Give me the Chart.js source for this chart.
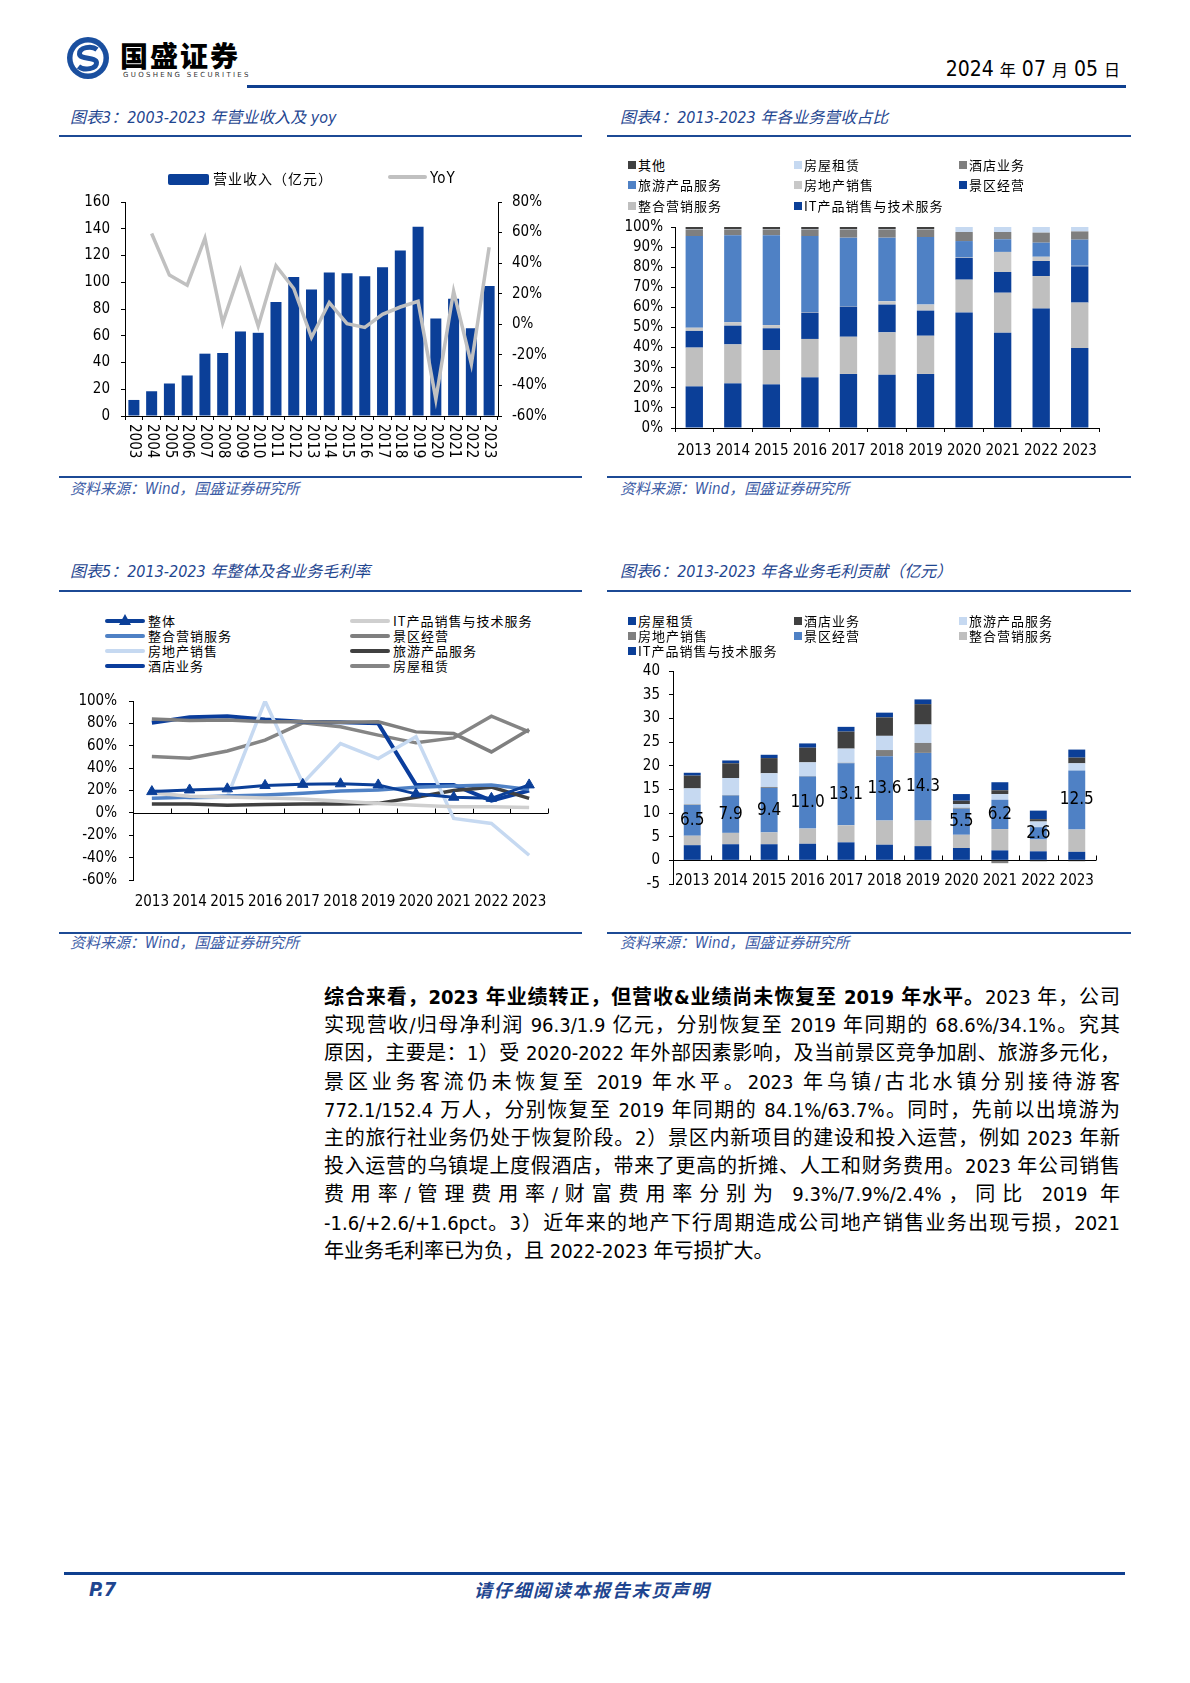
<!DOCTYPE html>
<html lang="zh-CN">
<head>
<meta charset="utf-8">
<script src="https://cdn.jsdelivr.net/npm/chart.js@4.4.1/dist/chart.umd.min.js"></script>
<style>
  html, body { margin: 0; padding: 0; background: #fff; }
  body {
    width: 1190px; height: 1683px; position: relative; overflow: hidden;
    font-family: "DejaVu Sans Condensed", "Liberation Sans", "Noto Sans CJK SC", sans-serif;
    color: #000;
  }
  .abs { position: absolute; white-space: nowrap; }
  canvas { position: absolute; }
  .bar { position: absolute; background: #0f3f8f; }
  .rule { position: absolute; height: 2px; background: #1c4a95; }
  .title { position: absolute; font-size: 16px; line-height: 20px; font-style: italic; color: #1f4690; white-space: nowrap; }
  .src { position: absolute; font-size: 15px; line-height: 18px; font-style: italic; color: #3b5ba5; white-space: nowrap; }
  .leg { position: absolute; font-family: "Noto Sans CJK SC", sans-serif; font-size: 13px; line-height: 16px; letter-spacing: 1px; white-space: nowrap; }
  .leg i { display: inline-block; width: 8px; height: 8px; margin-right: 2px; vertical-align: 1px; }
  .text { position: absolute; left: 324px; width: 796px; top: 983px; font-size: 20px; line-height: 28.2px; }
  .text div { text-align: justify; text-align-last: justify; white-space: nowrap; }
  .text div.last { text-align-last: left; }
</style>
</head>
<body>

<!-- header -->
<svg class="abs" style="left:66px;top:36px" width="44" height="44" viewBox="0 0 44 44">
  <circle cx="22" cy="22" r="21" fill="#1a4f9f"/>
  <circle cx="22" cy="22" r="15.5" fill="#fff"/>
  <path d="M31 13.5 C 26 9.5, 13 11, 13.5 18 C 14 24, 30 20.5, 30.5 26.5 C 31 33, 18 35, 12.5 30.5" stroke="#1a4f9f" stroke-width="5" fill="none"/>
</svg>
<div class="abs" style="left:120px;top:38px;font-family:'Noto Sans CJK SC';font-weight:900;font-size:28px;line-height:34px;letter-spacing:2px;">国盛证券</div>
<div class="abs" style="left:123px;top:71px;font-family:'DejaVu Sans';font-size:7px;line-height:9px;letter-spacing:2.3px;color:#333;">GUOSHENG SECURITIES</div>
<div class="abs" style="right:70px;top:56px;font-size:21px;line-height:26px;">2024 <span style="font-family:'Noto Sans CJK SC';font-size:16px">年</span> 07 <span style="font-family:'Noto Sans CJK SC';font-size:16px">月</span> 05 <span style="font-family:'Noto Sans CJK SC';font-size:16px">日</span></div>
<div class="bar" style="left:247px;top:85px;width:879px;height:3px;"></div>

<!-- titles and rules -->
<div class="title" style="left:70px;top:108px;">图表3：2003-2023 年营业收入及 yoy</div>
<div class="rule" style="left:59px;top:135px;width:523px;"></div>
<div class="title" style="left:620px;top:108px;">图表4：2013-2023 年各业务营收占比</div>
<div class="rule" style="left:607px;top:135px;width:524px;"></div>
<div class="rule" style="left:59px;top:476px;width:523px;"></div>
<div class="src" style="left:70px;top:480px;">资料来源：Wind，国盛证券研究所</div>
<div class="rule" style="left:607px;top:476px;width:524px;"></div>
<div class="src" style="left:620px;top:480px;">资料来源：Wind，国盛证券研究所</div>

<div class="title" style="left:70px;top:562px;">图表5：2013-2023 年整体及各业务毛利率</div>
<div class="rule" style="left:59px;top:590px;width:523px;"></div>
<div class="title" style="left:620px;top:562px;">图表6：2013-2023 年各业务毛利贡献（亿元）</div>
<div class="rule" style="left:607px;top:590px;width:524px;"></div>
<div class="rule" style="left:59px;top:932px;width:523px;"></div>
<div class="src" style="left:70px;top:934px;">资料来源：Wind，国盛证券研究所</div>
<div class="rule" style="left:607px;top:932px;width:524px;"></div>
<div class="src" style="left:620px;top:934px;">资料来源：Wind，国盛证券研究所</div>

<canvas id="c3" width="510" height="284" style="left:55px;top:182px;"></canvas>
<canvas id="c4" width="514" height="265" style="left:605px;top:210px;"></canvas>
<canvas id="c5" width="500" height="241" style="left:60px;top:680px;"></canvas>
<canvas id="c6" width="514" height="249" style="left:605px;top:653px;"></canvas>

<div class="text">
  <div><b>综合来看，2023 年业绩转正，但营收&amp;业绩尚未恢复至 2019 年水平。</b>2023 年，公司</div>
  <div>实现营收/归母净利润 96.3/1.9 亿元，分别恢复至 2019 年同期的 68.6%/34.1%。究其</div>
  <div>原因，主要是：1）受 2020-2022 年外部因素影响，及当前景区竞争加剧、旅游多元化，</div>
  <div>景区业务客流仍未恢复至 2019 年水平。2023 年乌镇/古北水镇分别接待游客</div>
  <div>772.1/152.4 万人，分别恢复至 2019 年同期的 84.1%/63.7%。同时，先前以出境游为</div>
  <div>主的旅行社业务仍处于恢复阶段。2）景区内新项目的建设和投入运营，例如 2023 年新</div>
  <div>投入运营的乌镇堤上度假酒店，带来了更高的折摊、人工和财务费用。2023 年公司销售</div>
  <div>费用率/管理费用率/财富费用率分别为 9.3%/7.9%/2.4%，同比 2019 年</div>
  <div>-1.6/+2.6/+1.6pct。3）近年来的地产下行周期造成公司地产销售业务出现亏损，2021</div>
  <div class="last">年业务毛利率已为负，且 2022-2023 年亏损扩大。</div>
</div>

<!-- footer -->
<div class="bar" style="left:64px;top:1572px;width:1061px;height:3px;"></div>
<div class="abs" style="left:89px;top:1578px;font-size:20px;line-height:22px;font-weight:bold;font-style:italic;color:#1f4690;">P.7</div>
<div class="abs" style="left:474px;top:1578px;font-family:'Noto Sans CJK SC';font-size:18px;line-height:22px;font-weight:bold;font-style:italic;color:#1f4690;letter-spacing:1.7px;">请仔细阅读本报告末页声明</div>

<script>
// ---- chart 3: revenue and yoy ----
const years3 = ['2003','2004','2005','2006','2007','2008','2009','2010','2011','2012','2013',
                '2014','2015','2016','2017','2018','2019','2020','2021','2022','2023'];
const revenue = [12, 18.5, 24.3, 30.3, 46.6, 47.1, 63.2, 62.2, 85.2, 104, 94.5,
                 107.3, 106.8, 104.5, 111.3, 123.8, 141.5, 72.9, 87.7, 65.7, 97.2];
const yoy = [null, 59.4, 32.2, 25.6, 56.3, 1, 35.3, -1.2, 38.3, 23.4, -8.6,
             14.2, 0.4, -2, 6.5, 11.3, 15, -49, 21.6, -26, 50.4];

// ---- chart 4: revenue share (%) ----
const years = ['2013','2014','2015','2016','2017','2018','2019','2020','2021','2022','2023'];
const shareIT     = [20.7, 22.2, 21.7, 25.2, 26.9, 26.5, 26.9, 57.5, 47.4, 59.4, 39.8];
const shareMkt    = [19.3, 19.4, 17.1, 19.1, 18.5, 21.1, 19.0, 16.3, 19.9, 16.2, 22.6];
const shareScenic = [8.3, 9.3, 10.8, 13.1, 15.0, 13.8, 12.5, 10.9, 10.3, 7.5, 18.0];
const shareRE     = [1.6, 1.7, 1.6, 0.3, 0.2, 1.6, 3.0, 0.3, 10.0, 2.1, 0.3];
const shareTravel = [45.6, 43.3, 44.7, 37.8, 34.1, 31.7, 33.6, 8.0, 6.3, 7.0, 13.0];
const shareHotel  = [3.3, 2.9, 2.9, 3.3, 4.1, 4.1, 3.8, 4.5, 3.6, 5.0, 4.1];
const shareRent   = [0.2, 0.2, 0.2, 0.2, 0.2, 0.2, 0.2, 2.5, 2.5, 2.8, 2.2];
const shareOther  = [1, 1, 1, 1, 1, 1, 1, 0, 0, 0, 0];

// ---- chart 5: gross margin (%) ----
const gmTotal  = [19, 20.5, 21.5, 24.5, 25.5, 26, 25, 17, 14, 13, 25];
const gmIT     = [17.8, 14.8, 14.2, 13.3, 12.4, 10.4, 8.3, 6.9, 5.4, 5.4, 4.8];
const gmMkt    = [13, 14, 15, 16, 17.5, 19.5, 20.5, 23, 24, 25, 21];
const gmScenic = [84, 82.5, 83, 81.5, 81.5, 81, 81.5, 72.4, 70.9, 54.5, 74.5];
const gmRE     = [20.7, 13, 14.2, 100, 26.6, 62, 48.6, 68, -5, -9.5, -37.9];
const gmTravel = [8, 8, 6.8, 7.4, 8, 8, 8.5, 14, 20, 23, 13];
const gmHotel  = [80.5, 85.5, 86.4, 83.4, 81.4, 81, 80, 25, 25, 11, 20];
const gmRent   = [50.3, 48.8, 55.3, 65, 80.5, 77, 69.5, 62.6, 67, 86.4, 72.4];

// ---- chart 6: gross profit contribution (亿元) ----
const gpIT     = [3.2, 3.4, 3.4, 3.5, 3.8, 3.3, 3.0, 2.6, 2.1, 1.9, 1.8];
const gpMkt    = [2.0, 2.4, 2.5, 3.2, 3.6, 5.1, 5.4, 2.8, 4.5, 2.5, 4.7];
const gpScenic = [6.5, 7.9, 9.4, 11.0, 13.1, 13.6, 14.3, 5.5, 6.2, 2.6, 12.5];
const gpRE     = [0.1, 0.1, 0.2, 0.1, 0.1, 1.3, 2.1, 0.2, -0.6, -0.2, -0.2];
const gpTravel = [3.4, 3.6, 2.9, 2.9, 3.0, 3.0, 3.9, 0.8, 1.2, 1.2, 1.5];
const gpHotel  = [2.7, 3.1, 3.2, 3.1, 3.6, 3.9, 4.3, 0.7, 0.8, 0.5, 1.2];
const gpRent   = [0.6, 0.6, 0.7, 0.9, 1.0, 1.0, 1.0, 1.4, 1.7, 1.8, 1.7];

const DARK = '#0b3f98', MID = '#4f81c5', PALE = '#c6d9f1';
const LGREY = '#bfbfbf', GREY = '#7f7f7f', DGREY = '#404040';

const NUMFONT = '"DejaVu Sans Condensed", "DejaVu Sans", "Noto Sans CJK SC", sans-serif';
Chart.defaults.font.family = NUMFONT;
Chart.defaults.font.size = 15;
Chart.defaults.color = '#000';
Chart.defaults.animation = false;
Chart.defaults.plugins.legend.display = false;
Chart.defaults.plugins.tooltip.enabled = false;

const axisGrid = { drawOnChartArea: false, tickLength: 4, color: '#000' };
const axisBorder = { color: '#000' };

// x labels turned 90deg clockwise (chart 3)
const verticalLabels = {
  id: 'verticalLabels',
  afterDraw(chart) {
    const { ctx, scales: { x } } = chart;
    ctx.save();
    ctx.font = '15px ' + NUMFONT;
    ctx.fillStyle = '#000';
    ctx.textAlign = 'left';
    ctx.textBaseline = 'middle';
    chart.data.labels.forEach((lab, i) => {
      ctx.save();
      ctx.translate(x.getPixelForValue(i), chart.chartArea.bottom + 8);
      ctx.rotate(Math.PI / 2);
      ctx.fillText(lab, 0, 0);
      ctx.restore();
    });
    ctx.restore();
  }
};

// category labels sitting on the bottom edge of the plot (chart 6)
const lowLabels = {
  id: 'lowLabels',
  afterDraw(chart) {
    const { ctx, scales: { x } } = chart;
    ctx.save();
    ctx.font = '15px ' + NUMFONT;
    ctx.fillStyle = '#000';
    ctx.textAlign = 'center';
    ctx.textBaseline = 'middle';
    chart.data.labels.forEach((lab, i) => {
      ctx.fillText(lab, x.getPixelForValue(i), chart.chartArea.bottom - 3);
    });
    ctx.restore();
  }
};

// category axis drawn at value 0, ticks between categories
const zeroAxis = {
  id: 'zeroAxis',
  beforeDatasetsDraw(chart) {
    const { ctx, chartArea: a, scales: { x, y } } = chart;
    const y0 = Math.round(y.getPixelForValue(0)) + 0.5;
    ctx.save();
    ctx.strokeStyle = '#000';
    ctx.lineWidth = 1;
    ctx.beginPath();
    ctx.moveTo(a.left, y0);
    ctx.lineTo(a.right, y0);
    for (let i = 0; i <= chart.data.labels.length; i++) {
      const px = Math.round(x.getPixelForValue(i - 0.5)) + 0.5;
      ctx.moveTo(px, y0);
      ctx.lineTo(px, y0 - 5);
    }
    ctx.stroke();
    ctx.restore();
  }
};

// value labels on the 景区经营 segments (chart 6)
const segLabels = {
  id: 'segLabels',
  afterDatasetsDraw(chart) {
    const { ctx } = chart;
    const idx = chart.data.datasets.findIndex(d => d.label === '景区经营');
    const meta = chart.getDatasetMeta(idx);
    ctx.save();
    ctx.font = '17px ' + NUMFONT;
    ctx.fillStyle = '#000';
    ctx.textAlign = 'center';
    ctx.textBaseline = 'middle';
    meta.data.forEach((bar, i) => {
      const v = chart.data.datasets[idx].data[i];
      ctx.fillText(v.toFixed(1), bar.x, (bar.y + bar.base) / 2);
    });
    ctx.restore();
  }
};

// ---------- chart 3 ----------
const chart3 = new Chart(document.getElementById('c3'), {
  type: 'bar',
  data: {
    labels: years3,
    datasets: [
      { type: 'line', label: 'YoY', data: yoy, yAxisID: 'y1', borderColor: '#c0c0c0',
        borderWidth: 3.5, pointRadius: 0, order: 0 },
      { type: 'bar', label: '营业收入（亿元）', data: revenue, yAxisID: 'y',
        backgroundColor: DARK, categoryPercentage: 1, barPercentage: 0.62, order: 1 }
    ]
  },
  options: {
    responsive: false,
    layout: { padding: { top: 12, left: 0, right: 0, bottom: 0 } },
    scales: {
      x: { grid: { ...axisGrid, offset: true }, border: axisBorder, ticks: { display: false },
           afterFit: s => { s.height = 50; } },
      y: { position: 'left', min: 0, max: 160, ticks: { stepSize: 20, padding: 11, autoSkip: false },
           grid: axisGrid, border: axisBorder, afterFit: s => { s.width = 70; } },
      y1: { position: 'right', min: -60, max: 80,
            ticks: { stepSize: 20, padding: 10, autoSkip: false, callback: v => v + '%' },
            grid: axisGrid, border: axisBorder, afterFit: s => { s.width = 67; } }
    }
  },
  plugins: [verticalLabels]
});

// ---------- chart 4 ----------
const chart4 = new Chart(document.getElementById('c4'), {
  type: 'bar',
  data: {
    labels: years,
    datasets: [
      { label: 'IT产品销售与技术服务', data: shareIT, backgroundColor: DARK },
      { label: '整合营销服务', data: shareMkt, backgroundColor: LGREY },
      { label: '景区经营', data: shareScenic, backgroundColor: DARK },
      { label: '房地产销售', data: shareRE, backgroundColor: '#c8c8c8' },
      { label: '旅游产品服务', data: shareTravel, backgroundColor: MID },
      { label: '酒店业务', data: shareHotel, backgroundColor: GREY },
      { label: '房屋租赁', data: shareRent, backgroundColor: PALE },
      { label: '其他', data: shareOther, backgroundColor: DGREY }
    ].map(d => ({ ...d, categoryPercentage: 1, barPercentage: 0.45 }))
  },
  options: {
    responsive: false,
    layout: { padding: { top: 12, left: 0, right: 20, bottom: 0 } },
    scales: {
      x: { stacked: true, grid: { ...axisGrid, offset: true }, border: axisBorder,
           ticks: { padding: 10, maxRotation: 0, autoSkip: false }, afterFit: s => { s.height = 47; } },
      y: { stacked: true, min: 0, max: 100,
           ticks: { stepSize: 10, padding: 8, autoSkip: false, callback: v => v + '%' },
           grid: axisGrid, border: axisBorder, afterFit: s => { s.width = 70; } }
    }
  }
});

// ---------- chart 5 ----------
const chart5 = new Chart(document.getElementById('c5'), {
  type: 'line',
  data: {
    labels: years,
    datasets: [
      { label: '整体', data: gmTotal, borderColor: DARK, backgroundColor: DARK, borderWidth: 3,
        pointStyle: 'triangle', pointRadius: 6, pointBorderWidth: 1 },
      { label: 'IT产品销售与技术服务', data: gmIT, borderColor: '#cfcfcf', borderWidth: 3.5 },
      { label: '整合营销服务', data: gmMkt, borderColor: MID, borderWidth: 3.5 },
      { label: '景区经营', data: gmScenic, borderColor: GREY, borderWidth: 3.5 },
      { label: '房地产销售', data: gmRE, borderColor: PALE, borderWidth: 3.5 },
      { label: '旅游产品服务', data: gmTravel, borderColor: DGREY, borderWidth: 3.5 },
      { label: '酒店业务', data: gmHotel, borderColor: '#0a3d9c', borderWidth: 4 },
      { label: '房屋租赁', data: gmRent, borderColor: '#858585', borderWidth: 3.5 }
    ].map(d => ({ pointRadius: 0, fill: false, tension: 0, ...d }))
  },
  options: {
    responsive: false,
    layout: { padding: { top: 12, left: 0, right: 12, bottom: 0 } },
    scales: {
      x: { offset: true, grid: { display: false, drawTicks: false }, border: { display: false },
           ticks: { padding: 13, maxRotation: 0, autoSkip: false }, afterFit: s => { s.height = 41; } },
      y: { min: -60, max: 100, ticks: { stepSize: 20, padding: 12, autoSkip: false, callback: v => v + '%' },
           grid: axisGrid, border: axisBorder, afterFit: s => { s.width = 73; } }
    }
  },
  plugins: [zeroAxis]
});

// ---------- chart 6 ----------
const chart6 = new Chart(document.getElementById('c6'), {
  type: 'bar',
  data: {
    labels: years,
    datasets: [
      { label: 'IT产品销售与技术服务', data: gpIT, backgroundColor: DARK },
      { label: '整合营销服务', data: gpMkt, backgroundColor: LGREY },
      { label: '景区经营', data: gpScenic, backgroundColor: MID },
      { label: '房地产销售', data: gpRE, backgroundColor: GREY },
      { label: '旅游产品服务', data: gpTravel, backgroundColor: PALE },
      { label: '酒店业务', data: gpHotel, backgroundColor: DGREY },
      { label: '房屋租赁', data: gpRent, backgroundColor: DARK }
    ].map(d => ({ ...d, categoryPercentage: 1, barPercentage: 0.44 }))
  },
  options: {
    responsive: false,
    layout: { padding: { top: 12, left: 0, right: 23, bottom: 0 } },
    scales: {
      x: { stacked: true, grid: { display: false, drawTicks: false }, border: { display: false },
           ticks: { display: false }, afterFit: s => { s.height = 17; } },
      y: { stacked: true, min: -5, max: 40, ticks: { stepSize: 5, padding: 9, autoSkip: false },
           grid: axisGrid, border: axisBorder, afterFit: s => { s.width = 68; } }
    }
  },
  plugins: [zeroAxis, segLabels, lowLabels]
});

// ---------- legends (built from the chart datasets) ----------
function boxLegend(chart, cols, rows, reverse) {
  const ds = chart.data.datasets.slice();
  if (reverse) ds.reverse();
  ds.forEach((d, k) => {
    const el = document.createElement('div');
    el.className = 'leg';
    el.style.left = cols[k % cols.length] + 'px';
    el.style.top = (rows[Math.floor(k / cols.length)] - 8) + 'px';
    el.innerHTML = '<i style="background:' + d.backgroundColor + '"></i>' + d.label;
    document.body.appendChild(el);
  });
}
boxLegend(chart4, [628, 794, 959], [165, 185, 206], true);
boxLegend(chart6, [628, 794, 959], [621, 636, 651], true);

function lineLegend(chart, cols, rows) {
  chart.data.datasets.forEach((d, k) => {
    const el = document.createElement('div');
    el.className = 'leg';
    el.style.left = cols[k % cols.length] + 'px';
    el.style.top = (rows[Math.floor(k / cols.length)] - 8) + 'px';
    let mark = '';
    if (d.pointStyle === 'triangle') {
      mark = '<svg width="12" height="11" style="position:absolute;left:14px;top:1px"><polygon points="6,0 12,11 0,11" fill="' + d.borderColor + '"/></svg>';
    }
    el.innerHTML = '<span style="position:relative;display:inline-block;width:40px;height:16px;margin-right:3px;vertical-align:top;">' +
      '<span style="position:absolute;left:0;top:6px;width:40px;height:4px;border-radius:2px;background:' + d.borderColor + '"></span>' +
      mark + '</span>' + d.label;
    document.body.appendChild(el);
  });
}
lineLegend(chart5, [105, 350], [621, 636, 651, 666]);

// chart 3 legend: bar swatch + line sample
(function () {
  const bar = chart3.data.datasets[1], line = chart3.data.datasets[0];
  const a = document.createElement('div');
  a.className = 'leg';
  a.style.cssText = 'left:168px;top:170px;font-size:14px;letter-spacing:1px;';
  a.innerHTML = '<span style="display:inline-block;width:41px;height:11px;border-radius:2px;margin-right:4px;vertical-align:-1px;background:' +
    bar.backgroundColor + '"></span>' + bar.label;
  document.body.appendChild(a);
  const b = document.createElement('div');
  b.className = 'leg';
  b.style.cssText = 'left:388px;top:170px;font-size:15px;font-family:' + NUMFONT.replace(/"/g, "'") + ';';
  b.innerHTML = '<span style="display:inline-block;width:39px;height:4px;border-radius:2px;margin-right:3px;vertical-align:4px;background:' +
    line.borderColor + '"></span>' + line.label;
  document.body.appendChild(b);
})();
</script>
</body>
</html>
